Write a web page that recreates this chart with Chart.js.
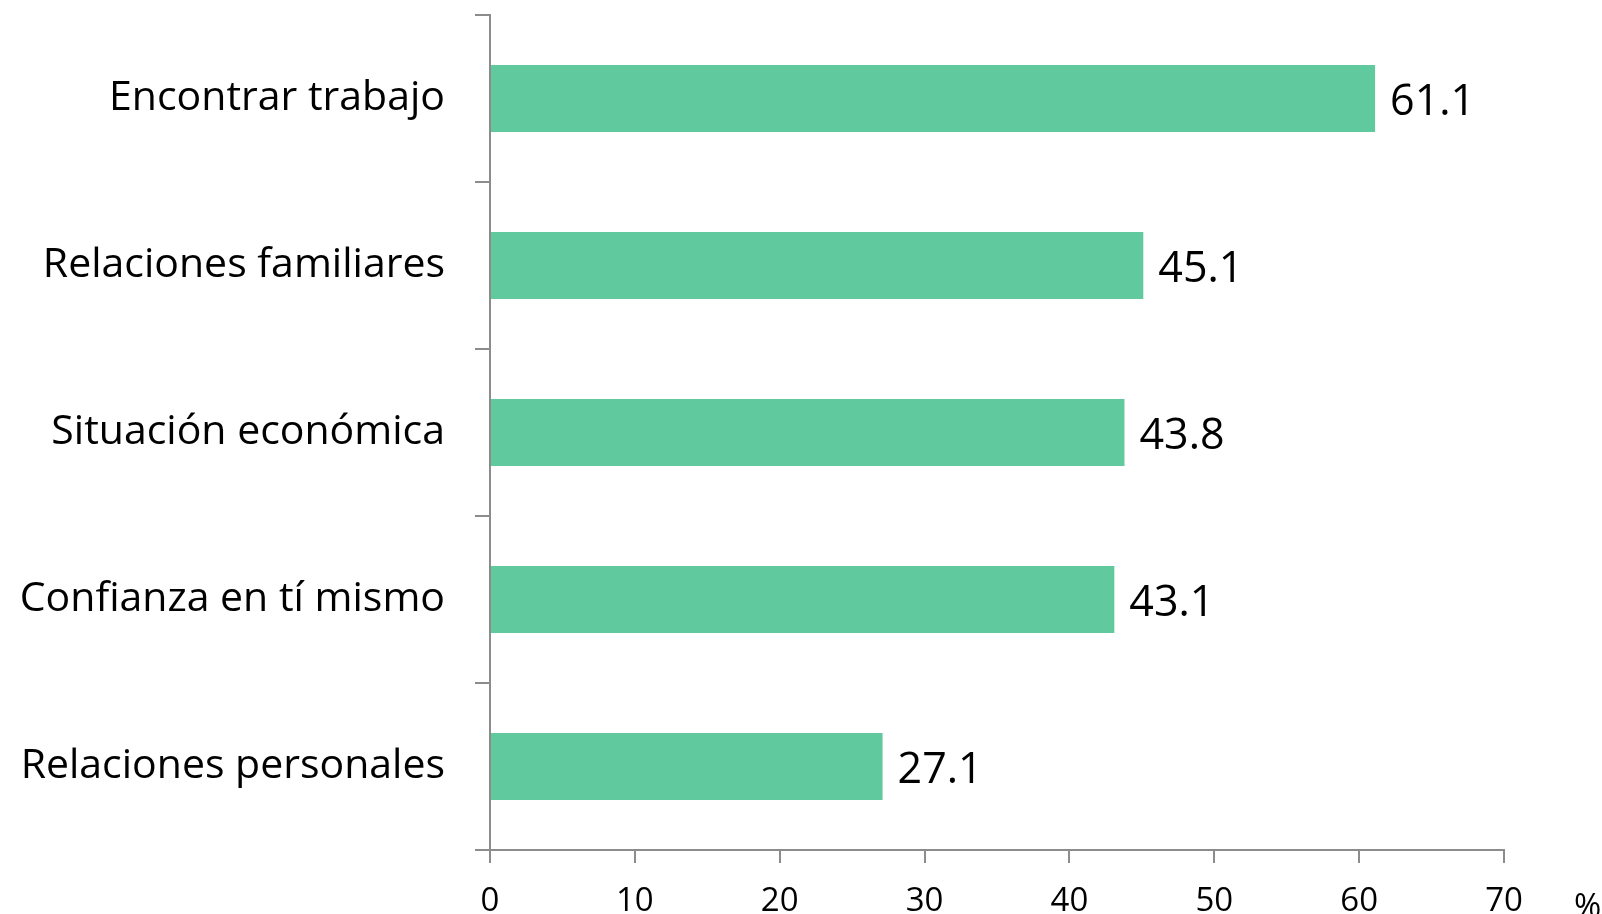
<!DOCTYPE html>
<html>
<head>
<meta charset="utf-8">
<script src="https://cdn.jsdelivr.net/npm/chart.js@4.4.0/dist/chart.umd.min.js"></script>
<style>
  html, body { margin: 0; padding: 0; background: #fff; }
  #wrap { width: 1602px; height: 914px; position: relative; }
</style>
</head>
<body>
<div id="wrap"><canvas id="chart" width="1602" height="914"></canvas></div>
<script>
const categories = [
  "Encontrar trabajo",
  "Relaciones familiares",
  "Situación económica",
  "Confianza en tí mismo",
  "Relaciones personales",
];
const values = [61.1, 45.1, 43.8, 43.1, 27.1];
const xTicks = [0, 10, 20, 30, 40, 50, 60, 70];
const unitLabel = "%";

const FONT = "'Open Sans', sans-serif";
const AXIS_COLOR = "#8c8c8c";
const BAR_COLOR = "#60c99d";

// value labels at the end of each bar + the "%" unit under the x axis
const labelsPlugin = {
  id: "labels",
  afterDatasetsDraw(chart) {
    const ctx = chart.ctx;
    const meta = chart.getDatasetMeta(0);
    ctx.save();
    ctx.fillStyle = "#000";
    ctx.font = "43px " + FONT;
    ctx.textAlign = "left";
    ctx.textBaseline = "middle";
    meta.data.forEach((bar, i) => {
      ctx.fillText(values[i].toFixed(1), bar.x + 15, bar.y + 4);
    });
    ctx.font = "33px " + FONT;
    ctx.fillText(unitLabel, chart.chartArea.right + 70, 908);
    ctx.restore();
  },
};

new Chart(document.getElementById("chart"), {
  type: "bar",
  data: {
    labels: categories,
    datasets: [
      {
        data: values,
        backgroundColor: BAR_COLOR,
        borderWidth: 0,
        categoryPercentage: 0.8,
        barPercentage: 0.5,
      },
    ],
  },
  plugins: [labelsPlugin],
  options: {
    indexAxis: "y",
    responsive: false,
    animation: false,
    layout: { padding: { top: 15, right: 98, left: 0, bottom: 0 } },
    plugins: { legend: { display: false }, tooltip: { enabled: false } },
    scales: {
      x: {
        min: 0,
        max: 70,
        afterBuildTicks(axis) {
          axis.ticks = xTicks.map((v) => ({ value: v }));
        },
        afterFit(axis) {
          axis.height = 64;
          axis.paddingLeft = 0;
          axis.paddingRight = 0;
        },
        border: { color: AXIS_COLOR, width: 2 },
        grid: {
          drawOnChartArea: false,
          drawTicks: true,
          tickLength: 13,
          color: AXIS_COLOR,
          lineWidth: 2,
        },
        ticks: {
          color: "#000",
          font: { family: FONT, size: 33 },
          padding: 19,
          maxRotation: 0,
        },
      },
      y: {
        afterFit(axis) {
          axis.width = 490;
          axis.paddingTop = 0;
          axis.paddingBottom = 0;
        },
        border: { color: AXIS_COLOR, width: 2 },
        grid: {
          offset: true,
          drawOnChartArea: false,
          tickLength: 15,
          color: AXIS_COLOR,
          lineWidth: 2,
        },
        ticks: {
          color: "#000",
          font: { family: FONT, size: 41 },
          padding: 30,
        },
      },
    },
  },
});
</script>
</body>
</html>
